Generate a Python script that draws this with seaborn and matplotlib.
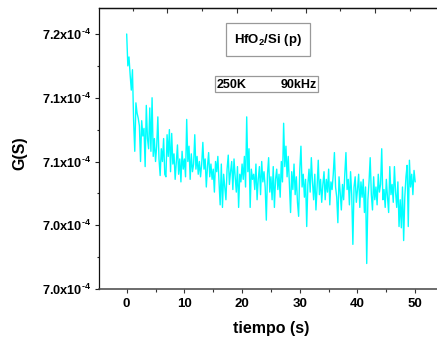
import numpy as np
import pandas as pd
import matplotlib
matplotlib.use("Agg")
import matplotlib.pyplot as plt
import seaborn as sns
from matplotlib.patches import Rectangle
from matplotlib.ticker import FixedLocator, FixedFormatter, NullFormatter

# ---------------- data (G in units of 1e-4 S, sampled every 0.2 s) ----------------
G_e4 = [
    7.200, 7.175, 7.182, 7.168, 7.156, 7.172, 7.132, 7.108, 7.146, 7.138,
    7.134, 7.128, 7.100, 7.132, 7.120, 7.126, 7.096, 7.144, 7.118, 7.110,
    7.142, 7.108, 7.150, 7.104, 7.118, 7.100, 7.112, 7.135, 7.102, 7.089,
    7.110, 7.100, 7.118, 7.090, 7.088, 7.121, 7.104, 7.125, 7.092, 7.122,
    7.098, 7.106, 7.086, 7.100, 7.113, 7.090, 7.102, 7.084, 7.108, 7.094,
    7.102, 7.088, 7.133, 7.100, 7.112, 7.086, 7.106, 7.092, 7.098, 7.121,
    7.094, 7.104, 7.090, 7.100, 7.088, 7.098, 7.115, 7.094, 7.102, 7.080,
    7.096, 7.107, 7.088, 7.098, 7.086, 7.094, 7.076, 7.100, 7.092, 7.104,
    7.084, 7.066, 7.098, 7.064, 7.090, 7.080, 7.070, 7.094, 7.105, 7.082,
    7.092, 7.100, 7.078, 7.102, 7.088, 7.076, 7.096, 7.064, 7.090, 7.084,
    7.098, 7.086, 7.104, 7.080, 7.135, 7.092, 7.110, 7.064, 7.094, 7.086,
    7.090, 7.078, 7.098, 7.070, 7.086, 7.096, 7.074, 7.100, 7.084, 7.092,
    7.080, 7.054, 7.090, 7.103, 7.076, 7.088, 7.070, 7.096, 7.064, 7.086,
    7.094, 7.078, 7.090, 7.072, 7.100, 7.084, 7.130, 7.096, 7.112, 7.088,
    7.104, 7.082, 7.060, 7.092, 7.078, 7.098, 7.074, 7.088, 7.068, 7.057,
    7.094, 7.112, 7.080, 7.090, 7.072, 7.086, 7.049, 7.082, 7.094, 7.076,
    7.103, 7.084, 7.070, 7.090, 7.062, 7.080, 7.101, 7.074, 7.086, 7.068,
    7.082, 7.092, 7.070, 7.086, 7.076, 7.094, 7.066, 7.084, 7.078, 7.090,
    7.107, 7.080, 7.072, 7.052, 7.088, 7.076, 7.062, 7.082, 7.070, 7.090,
    7.107, 7.078, 7.086, 7.066, 7.092, 7.074, 7.035, 7.080, 7.088, 7.068,
    7.078, 7.090, 7.064, 7.084, 7.072, 7.086, 7.060, 7.080, 7.020, 7.070,
    7.084, 7.103, 7.074, 7.062, 7.088, 7.070, 7.080, 7.066, 7.090, 7.076,
    7.082, 7.110, 7.070, 7.078, 7.064, 7.086, 7.072, 7.060, 7.096, 7.074,
    7.082, 7.068, 7.096, 7.076, 7.064, 7.084, 7.049, 7.070, 7.048, 7.080,
    7.038, 7.072, 7.088, 7.097, 7.049, 7.101, 7.080, 7.090, 7.074, 7.093,
    7.084,
]
time_step = 0.2
x_ticks = [0, 10, 20, 30, 40, 50]
x_ticklabels = ["0", "10", "20", "30", "40", "50"]
y_ticks_e4 = [7.00, 7.05, 7.10, 7.15, 7.20]
y_ticklabels = ["7.0x10$^{\\text{-4}}$", "7.0x10$^{\\text{-4}}$", "7.1x10$^{\\text{-4}}$",
                "7.1x10$^{\\text{-4}}$", "7.2x10$^{\\text{-4}}$"]
title_text = "HfO$_2$/Si (p)"
cond_left = "250K"
cond_right = "90kHz"
xlabel = "tiempo (s)"
ylabel = "G(S)"

G = np.array(G_e4) * 1e-4
t = np.arange(len(G)) * time_step
df = pd.DataFrame({"t": t, "G": G})

# ---------------- style ----------------
sns.set_style("white")
plt.rcParams["font.family"] = ["Liberation Sans", "DejaVu Sans"]
plt.rcParams["font.weight"] = "bold"
plt.rcParams["text.color"] = "black"
plt.rcParams["axes.labelcolor"] = "black"
plt.rcParams["xtick.color"] = "black"
plt.rcParams["ytick.color"] = "black"
plt.rcParams["mathtext.fontset"] = "custom"
plt.rcParams["mathtext.rm"] = "Liberation Sans:bold"
plt.rcParams["mathtext.bf"] = "Liberation Sans:bold"
plt.rcParams["mathtext.it"] = "Liberation Sans:bold"
plt.rcParams["mathtext.default"] = "rm"

W, H = 437, 340
fig = plt.figure(figsize=(W / 100, H / 100), dpi=100)
fig.patch.set_facecolor("white")

def fx(px):
    return px / W

def fy(py):
    return 1 - py / H

ax_l, ax_r, ax_t, ax_b = 98.7, 437.0, 8.0, 289.0
ax = fig.add_axes([fx(ax_l), fy(ax_b), fx(ax_r - ax_l), (ax_b - ax_t) / H])

sns.lineplot(data=df, x="t", y="G", ax=ax, color="#00FFFF", linewidth=1.0,
             estimator=None, sort=False)

ax.set_xlim(-4.85, 53.78)
y_top = 7.0 + (ax_b - ax_t) * 0.2 / (289 - 34)
ax.set_ylim(7.0e-4, y_top * 1e-4)

# top axis ticks (inward, no labels) -- twin shares y, so no y changes on it
ax2 = ax.twiny()
ax2.set_xlim(ax.get_xlim())
ax2.xaxis.set_major_locator(FixedLocator([7.05, 19.05, 31.05, 43.05]))
ax2.xaxis.set_minor_locator(FixedLocator([1.05, 13.05, 25.05, 37.05, 49.05]))
ax2.xaxis.set_major_formatter(NullFormatter())
ax2.tick_params(axis="x", which="major", direction="in", length=3.6, width=0.8,
                color="#333333", top=True)
ax2.tick_params(axis="x", which="minor", direction="in", length=2.2, width=0.8,
                color="#333333", top=True)
for side in ["left", "right", "bottom"]:
    ax2.spines[side].set_visible(False)
ax2.spines["top"].set_color("#111111")
ax2.spines["top"].set_linewidth(0.9)

ax.xaxis.set_major_locator(FixedLocator(x_ticks))
ax.xaxis.set_major_formatter(FixedFormatter(x_ticklabels))
ax.xaxis.set_minor_locator(FixedLocator([-5, 5, 15, 25, 35, 45]))
ax.yaxis.set_major_locator(FixedLocator([v * 1e-4 for v in y_ticks_e4]))
ax.yaxis.set_major_formatter(FixedFormatter(y_ticklabels))
ax.yaxis.set_minor_locator(FixedLocator([v * 1e-4 for v in [7.025, 7.075, 7.125, 7.175]]))
ax.set_ylim(7.0e-4, y_top * 1e-4)

ax.tick_params(axis="x", which="major", direction="out", length=3.2, width=0.8,
               labelsize=9.5, pad=3.5, color="#333333", bottom=True, top=False)
ax.tick_params(axis="x", which="minor", direction="out", length=2.4, width=0.8,
               color="#333333", bottom=True, top=False)
ax.tick_params(axis="y", which="major", direction="out", length=3.2, width=0.8,
               labelsize=9.2, pad=2.5, color="#222222", left=True, right=False,
               labelleft=True)
ax.tick_params(axis="y", which="minor", direction="out", length=1.8, width=0.8,
               color="#222222", left=True, right=False)
for lab in ax.get_xticklabels() + ax.get_yticklabels():
    lab.set_fontweight("bold")
    lab.set_color("black")

ax.set_xlabel("")
ax.set_ylabel("")
for side in ["left", "top"]:
    ax.spines[side].set_color("#111111")
    ax.spines[side].set_linewidth(0.9)
ax.spines["bottom"].set_color("#444444")
ax.spines["bottom"].set_linewidth(1.1)
ax.spines["right"].set_visible(False)
ax2.spines["right"].set_visible(False)

# axis labels
fig.text(fx(19.5), fy(153), ylabel, rotation=90, ha="center", va="center",
         fontsize=11.5, fontweight="bold", color="black")
fig.text(fx(271), fy(328), xlabel, ha="center", va="center",
         fontsize=11.5, fontweight="bold", color="black")

# annotation boxes
fig.add_artist(Rectangle((fx(225.7), fy(56.3)), fx(310.3 - 225.7), (56.3 - 23.3) / H,
                         transform=fig.transFigure, fill=False,
                         edgecolor="#999999", linewidth=0.9))
fig.text(fx(268), fy(40.5), title_text, ha="center", va="center",
         fontsize=9.5, fontweight="bold", color="black")

fig.add_artist(Rectangle((fx(215), fy(92)), fx(318 - 215), (92 - 76) / H,
                         transform=fig.transFigure, fill=False,
                         edgecolor="#999999", linewidth=0.9))
fig.text(fx(216.5), fy(84.5), cond_left, ha="left", va="center",
         fontsize=9, fontweight="bold", color="black")
fig.text(fx(316.8), fy(84.5), cond_right, ha="right", va="center",
         fontsize=9, fontweight="bold", color="black")

fig.savefig("out.png", dpi=100, facecolor="white")
